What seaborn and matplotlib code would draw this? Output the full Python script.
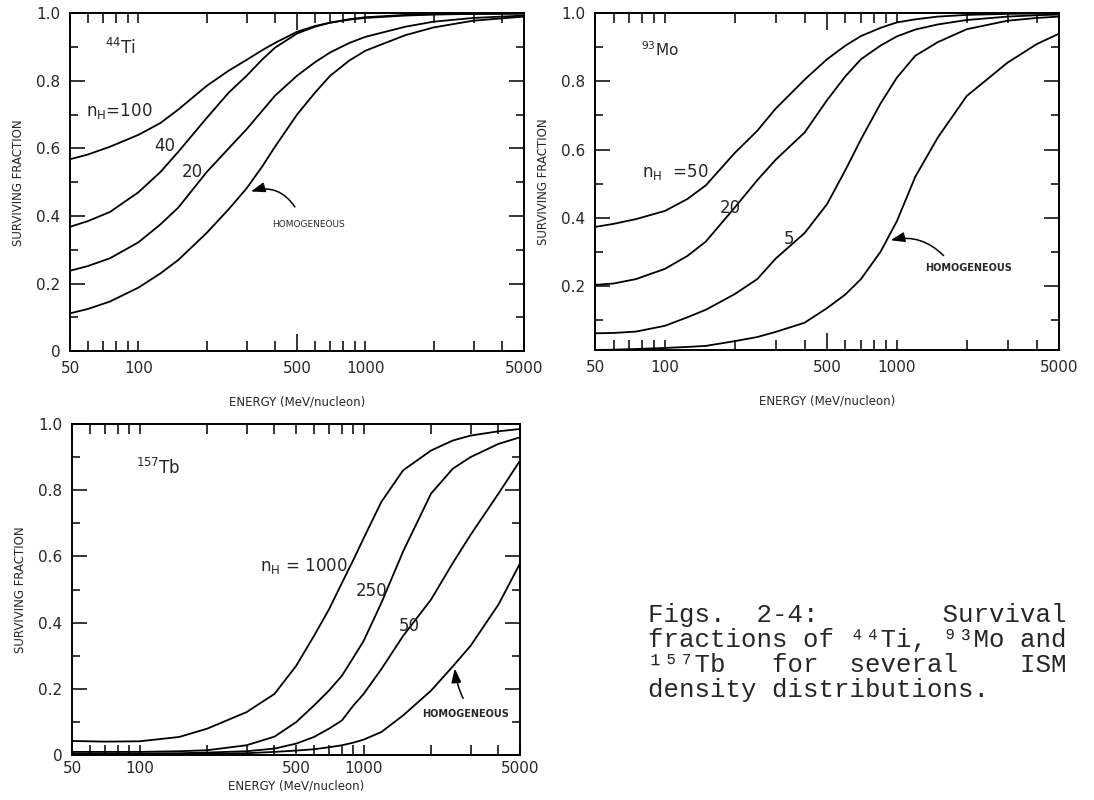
import matplotlib
matplotlib.use('Agg')
import matplotlib.pyplot as plt
import matplotlib.ticker as mticker
import seaborn as sns

energy_ti = [50, 60, 75, 100, 125, 150, 200, 250, 300, 350, 400, 500, 600, 700, 850, 1000, 1500, 2000, 3000, 5000]
energy_mo = [50, 60, 75, 100, 125, 150, 200, 250, 300, 400, 500, 600, 700, 850, 1000, 1200, 1500, 2000, 3000, 4000, 5000]
energy_tb = [50, 70, 100, 150, 200, 300, 400, 500, 600, 700, 800, 900, 1000, 1200, 1500, 2000, 2500, 3000, 4000, 5000]

# 44Ti surviving fractions
ti_nh100 = [0.568, 0.582, 0.605, 0.640, 0.675, 0.715, 0.785, 0.830, 0.862, 0.890, 0.912, 0.945, 0.962, 0.972, 0.982, 0.988, 0.995, 0.997, 0.998, 0.999]
ti_nh40 = [0.368, 0.385, 0.412, 0.470, 0.530, 0.590, 0.690, 0.765, 0.815, 0.862, 0.898, 0.940, 0.960, 0.972, 0.981, 0.986, 0.993, 0.996, 0.998, 0.999]
ti_nh20 = [0.238, 0.252, 0.275, 0.322, 0.375, 0.425, 0.530, 0.600, 0.657, 0.710, 0.756, 0.815, 0.855, 0.884, 0.912, 0.930, 0.960, 0.975, 0.986, 0.993]
ti_hom = [0.112, 0.125, 0.147, 0.188, 0.230, 0.270, 0.350, 0.420, 0.482, 0.545, 0.605, 0.700, 0.765, 0.815, 0.860, 0.889, 0.935, 0.958, 0.978, 0.990]

# 93Mo surviving fractions
mo_nh50 = [0.373, 0.382, 0.396, 0.420, 0.455, 0.495, 0.590, 0.655, 0.720, 0.805, 0.865, 0.905, 0.933, 0.957, 0.973, 0.982, 0.990, 0.995, 0.998, 0.999, 0.999]
mo_nh20 = [0.203, 0.207, 0.220, 0.250, 0.288, 0.330, 0.430, 0.510, 0.570, 0.650, 0.745, 0.815, 0.865, 0.905, 0.932, 0.952, 0.967, 0.980, 0.990, 0.994, 0.996]
mo_nh5 = [0.061, 0.062, 0.066, 0.083, 0.108, 0.130, 0.176, 0.220, 0.280, 0.355, 0.440, 0.540, 0.630, 0.735, 0.811, 0.875, 0.915, 0.953, 0.978, 0.986, 0.990]
mo_hom = [0.012, 0.013, 0.015, 0.018, 0.021, 0.024, 0.038, 0.050, 0.065, 0.092, 0.135, 0.175, 0.220, 0.300, 0.390, 0.520, 0.635, 0.757, 0.855, 0.909, 0.940]

# 157Tb surviving fractions
tb_nh1000 = [0.043, 0.041, 0.042, 0.055, 0.080, 0.130, 0.185, 0.270, 0.360, 0.440, 0.520, 0.590, 0.655, 0.765, 0.860, 0.920, 0.950, 0.965, 0.978, 0.985]
tb_nh250 = [0.010, 0.010, 0.010, 0.012, 0.015, 0.030, 0.056, 0.100, 0.150, 0.195, 0.240, 0.295, 0.345, 0.460, 0.615, 0.790, 0.865, 0.900, 0.940, 0.960]
tb_nh50 = [0.005, 0.005, 0.005, 0.006, 0.008, 0.012, 0.020, 0.035, 0.055, 0.080, 0.105, 0.150, 0.185, 0.260, 0.360, 0.470, 0.580, 0.665, 0.790, 0.890]
tb_hom = [0.003, 0.003, 0.003, 0.003, 0.004, 0.006, 0.010, 0.014, 0.018, 0.024, 0.030, 0.038, 0.047, 0.070, 0.120, 0.195, 0.268, 0.330, 0.455, 0.580]

x_major = [50, 100, 500, 1000, 5000]
x_labels = ['50', '100', '500', '1000', '5000']
x_minor = [60, 70, 80, 90, 200, 300, 400, 600, 700, 800, 900, 2000, 3000, 4000]

caption = ['Figs.  2-4:        Survival',
           'fractions of \u2074\u2074Ti, \u2079\u00b3Mo and',
           '\u00b9\u2075\u2077Tb   for  several    ISM',
           'density distributions.']

sns.set_theme(style='ticks')
plt.rcParams['font.family'] = ['DejaVu Sans']
plt.rcParams['mathtext.fontset'] = 'dejavusans'


def style_axes(ax, y_ticks, y_labels, y_low):
    ax.set_xscale('log')
    ax.set_xlim(50, 5000)
    ax.set_ylim(y_low, 1.0)
    ax.xaxis.set_major_locator(mticker.FixedLocator(x_major))
    ax.xaxis.set_major_formatter(mticker.FixedFormatter(x_labels))
    ax.xaxis.set_minor_locator(mticker.FixedLocator(x_minor))
    ax.xaxis.set_minor_formatter(mticker.NullFormatter())
    ax.yaxis.set_major_locator(mticker.FixedLocator(y_ticks))
    ax.yaxis.set_major_formatter(mticker.FixedFormatter(y_labels))
    ax.yaxis.set_minor_locator(mticker.FixedLocator([0.1, 0.3, 0.5, 0.7, 0.9]))
    ax.tick_params(which='both', direction='in', top=True, right=True, color='black', width=1.1)
    ax.tick_params(axis='y', which='major', length=11)
    ax.tick_params(axis='y', which='minor', length=6)
    ax.tick_params(axis='x', which='both', length=7)
    ax.tick_params(which='major', labelsize=11, pad=7)
    # the decade ticks are drawn longer
    for t in ax.xaxis.get_major_ticks():
        if t.get_loc() in (100, 1000):
            t.tick1line.set_markersize(12)
            t.tick2line.set_markersize(12)
    for s in ax.spines.values():
        s.set_linewidth(1.4)
        s.set_color('black')
    ax.set_ylabel('SURVIVING FRACTION', fontsize=8.5, labelpad=8)
    ax.set_xlabel('ENERGY (MeV/nucleon)', fontsize=8.5)


def draw_curves(ax, energy, curves):
    for vals in curves:
        sns.lineplot(x=energy, y=vals, ax=ax, color='black', linewidth=1.3)


fig = plt.figure(figsize=(10.94, 8), dpi=100)
fig.patch.set_facecolor('white')

arrow = dict(arrowstyle='-|>,head_length=0.7,head_width=0.25', color='black', lw=1.1)

# 44Ti
ax1 = fig.add_axes([0.064, 0.561, 0.415, 0.4225])
draw_curves(ax1, energy_ti, [ti_nh100, ti_nh40, ti_nh20, ti_hom])
style_axes(ax1, [0, 0.2, 0.4, 0.6, 0.8, 1.0], ['0', '0.2', '0.4', '0.6', '0.8', '1.0'], 0)
ax1.xaxis.labelpad = 14
ax1.text(71, 0.898, r'$^{44}$Ti', fontsize=12, va='center')
ax1.text(59, 0.711, r'$\mathregular{n_H}$=100', fontsize=12, va='center')
ax1.text(118, 0.608, '40', fontsize=12, va='center')
ax1.text(156, 0.529, '20', fontsize=12, va='center')
ax1.text(388, 0.375, 'HOMOGENEOUS', fontsize=6.5, va='center')
ax1.annotate('', xy=(305, 0.47), xytext=(497, 0.42),
             arrowprops=dict(connectionstyle='arc3,rad=0.4', **arrow))

# 93Mo
ax2 = fig.add_axes([0.544, 0.5625, 0.424, 0.421])
draw_curves(ax2, energy_mo, [mo_nh50, mo_nh20, mo_nh5, mo_hom])
style_axes(ax2, [0.2, 0.4, 0.6, 0.8, 1.0], ['0.2', '0.4', '0.6', '0.8', '1.0'], 0.012)
ax2.xaxis.labelpad = 14
ax2.text(79, 0.894, r'$^{93}$Mo', fontsize=11, va='center')
ax2.text(80, 0.535, r'$\mathregular{n_H}$  =50', fontsize=12, va='center')
ax2.text(172, 0.43, '20', fontsize=12, va='center')
ax2.text(325, 0.337, '5', fontsize=12, va='center')
ax2.text(1330, 0.254, 'HOMOGENEOUS', fontsize=7, fontweight='bold', va='center')
ax2.annotate('', xy=(915, 0.332), xytext=(1620, 0.283),
             arrowprops=dict(connectionstyle='arc3,rad=0.3', **arrow))

# 157Tb
ax3 = fig.add_axes([0.066, 0.056, 0.4095, 0.414])
draw_curves(ax3, energy_tb, [tb_nh1000, tb_nh250, tb_nh50, tb_hom])
style_axes(ax3, [0, 0.2, 0.4, 0.6, 0.8, 1.0], ['0', '0.2', '0.4', '0.6', '0.8', '1.0'], 0)
ax3.xaxis.labelpad = 3
ax3.tick_params(axis='x', which='major', pad=4)
ax3.text(96, 0.866, r'$^{157}$Tb', fontsize=12, va='center')
ax3.text(345, 0.57, r'$\mathregular{n_H}$ = 1000', fontsize=12, va='center')
ax3.text(921, 0.497, '250', fontsize=12, va='center')
ax3.text(1430, 0.39, '50', fontsize=12, va='center')
ax3.text(1830, 0.124, 'HOMOGENEOUS', fontsize=7, fontweight='bold', va='center')
ax3.annotate('', xy=(2547, 0.27), xytext=(2815, 0.164),
             arrowprops=dict(connectionstyle='arc3,rad=-0.1', **arrow))

# caption in typewriter style
for i, line in enumerate(caption):
    fig.text(0.592, 0.231 - i * 0.031, line, family=['Liberation Mono', 'DejaVu Sans Mono'],
             fontsize=18.5, va='center')

fig.savefig('out.png', dpi=100, facecolor='white')
